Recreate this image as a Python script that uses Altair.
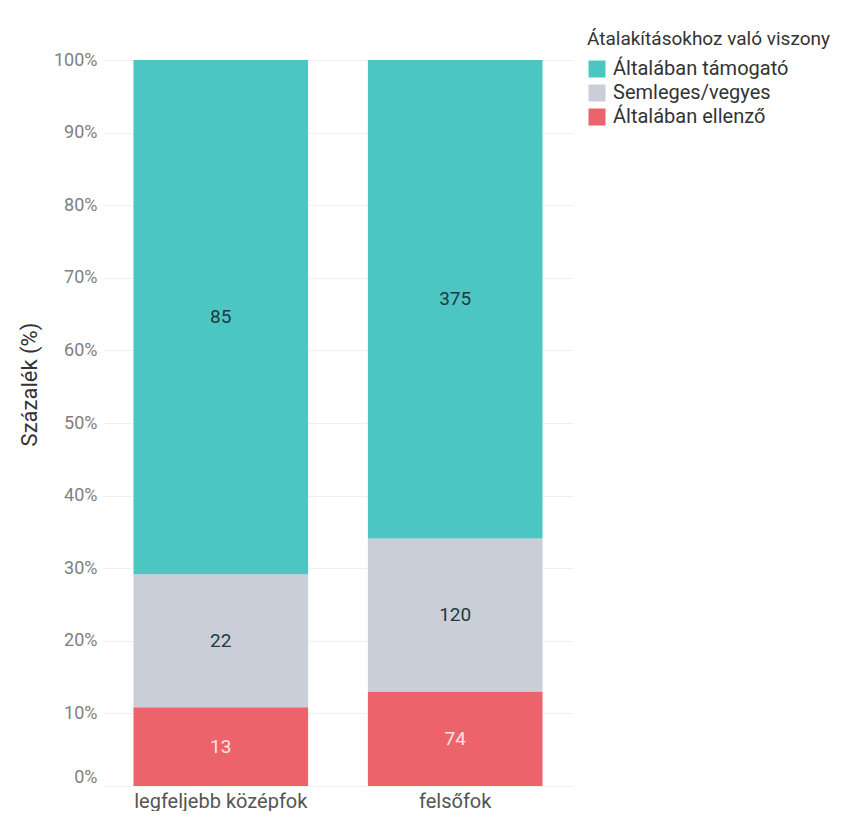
import altair as alt
import pandas as pd

groups = ["legfeljebb középfok", "legfeljebb középfok", "legfeljebb középfok",
          "felsőfok", "felsőfok", "felsőfok"]
attitudes = ["Általában ellenző", "Semleges/vegyes", "Általában támogató",
             "Általában ellenző", "Semleges/vegyes", "Általában támogató"]
counts = [13, 22, 85, 74, 120, 375]
stack_order = [0, 1, 2, 0, 1, 2]

legend_order = ["Általában támogató", "Semleges/vegyes", "Általában ellenző"]
colors = ["#4cc6c2", "#c9ced8", "#ec636c"]
group_order = ["legfeljebb középfok", "felsőfok"]
tick_values = [0, 0.1, 0.2, 0.3, 0.4, 0.5, 0.6, 0.7, 0.8, 0.9, 1.0]

df = pd.DataFrame({"group": groups, "attitude": attitudes, "count": counts, "ord": stack_order})

FONT = "Roboto"

base = alt.Chart(df).transform_joinaggregate(
    total="sum(count)", groupby=["group"]
).transform_calculate(
    pct="datum.count / datum.total"
).transform_stack(
    stack="pct", groupby=["group"], as_=["y0", "y1"],
    sort=[alt.SortField("ord", order="ascending")]
).transform_calculate(
    ymid="(datum.y0 + datum.y1) / 2",
    light="datum.attitude === 'Általában ellenző' ? 1 : 0"
)

x_enc = alt.X("group:N", sort=group_order, title=None,
              scale=alt.Scale(paddingInner=0.255, paddingOuter=0.13),
              axis=alt.Axis(labelAngle=0, labelFont=FONT, labelFontSize=20,
                            labelColor="#555555", domain=False, ticks=False,
                            labelPadding=5, grid=False))

bars = base.mark_bar().encode(
    x=x_enc,
    y=alt.Y("y0:Q", scale=alt.Scale(domain=[0, 1]), title="Százalék (%)",
            axis=alt.Axis(format=".0%", values=tick_values,
                          labelFont=FONT, labelFontSize=18, labelColor="#808080",
                          labelBaseline=alt.condition("datum.value == 0",
                                                      alt.value("bottom"),
                                                      alt.value("middle")),
                          titleFont=FONT, titleFontSize=22, titleColor="#333333",
                          titleFontWeight="normal", titlePadding=12, titleY=324,
                          domain=False, ticks=False, labelPadding=6,
                          gridColor="#f0f0f0")),
    y2="y1:Q",
    color=alt.Color("attitude:N", scale=alt.Scale(domain=legend_order, range=colors),
                    legend=alt.Legend(title="Átalakításokhoz való viszony",
                                      orient="none", legendX=484, legendY=-30,
                                      titleFont=FONT, titleFontSize=19, titleLimit=400,
                                      titleFontWeight="normal", titleColor="#333333",
                                      labelFont=FONT, labelFontSize=20, labelLimit=400,
                                      labelColor="#333333", symbolType="square",
                                      symbolSize=289, symbolStrokeWidth=0,
                                      rowPadding=4, titlePadding=10, labelOffset=6))
)

texts = base.mark_text(font=FONT, fontSize=19).encode(
    x=alt.X("group:N", sort=group_order),
    y=alt.Y("ymid:Q"),
    text=alt.Text("count:Q"),
    color=alt.condition("datum.light == 1", alt.value("#fbe3e4"), alt.value("#1d3a40"))
)

chart = alt.layer(bars, texts).properties(
    width=470, height=726,
    padding={"top": 22, "left": 10, "right": 0, "bottom": 0}
).configure_view(stroke=None)

chart.save("out.html", embed_options={"renderer": "svg", "actions": False})
